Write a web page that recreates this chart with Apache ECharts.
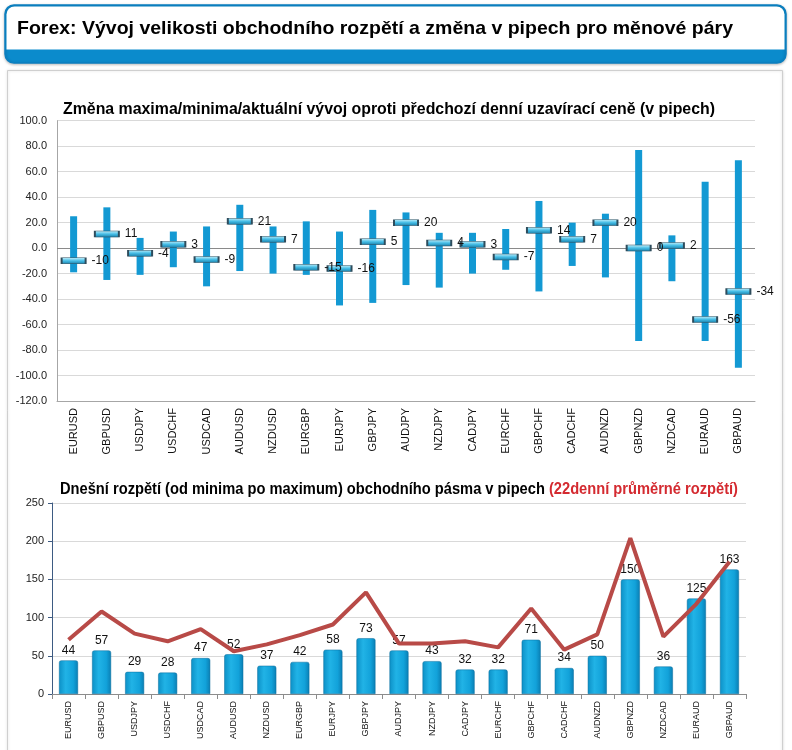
<!DOCTYPE html>
<html>
<head>
<meta charset="utf-8">
<script src="https://cdn.jsdelivr.net/npm/echarts@6/dist/echarts.min.js"></script>
<style>
html,body{margin:0;padding:0;background:#fff;}
#c{width:792px;height:750px;}
</style>
</head>
<body>
<div id="c"></div>
<script>
const categories = ['EURUSD','GBPUSD','USDJPY','USDCHF','USDCAD','AUDUSD','NZDUSD','EURGBP','EURJPY','GBPJPY','AUDJPY','NZDJPY','CADJPY','EURCHF','GBPCHF','CADCHF','AUDNZD','GBPNZD','NZDCAD','EURAUD','GBPAUD'];
const maxChange = [25,32,8,13,17,34,17,21,13,30,28,12,12,15,37,20,27,77,10,52,69];
const minChange = [-19,-25,-21,-15,-30,-18,-20,-21,-45,-43,-29,-31,-20,-17,-34,-14,-23,-73,-26,-73,-94];
const currentChange = [-10,11,-4,3,-9,21,7,-15,-16,5,20,4,3,-7,14,7,20,0,2,-56,-34];
const dailyRange = [44,57,29,28,47,52,37,42,58,73,57,43,32,32,71,34,50,150,36,125,163];
const avgRange22 = [71,108,79,69,85,56,65,77,91,133,66,66,69,61,112,58,78,204,75,118,173];

const mainTitle = 'Forex: Vývoj velikosti obchodního rozpětí a změna v pipech pro měnové páry';
const title1 = 'Změna maxima/minima/aktuální vývoj oproti předchozí denní uzavírací ceně (v pipech)';
const title2a = 'Dnešní rozpětí (od minima po maximum) obchodního pásma v pipech ';
const title2b = '(22denní průměrné rozpětí)';

const FF = '"Liberation Sans", Arial, sans-serif';
const mctx = document.createElement('canvas').getContext('2d');
function tw(text, font){ mctx.font = font; return mctx.measureText(text).width; }

const fMain = 'bold 19px ' + FF;
const f1 = 'bold 16px ' + FF;
const sMain = 716 / tw(mainTitle, fMain);
const s1 = 652 / tw(title1, f1);
const w2a = tw(title2a, f1), w2b = tw(title2b, f1);
const s2 = 678 / (w2a + w2b);

const chart = echarts.init(document.getElementById('c'), null, {renderer:'canvas'});

const option = {
  animation: false,
  textStyle: {fontFamily: FF},
  graphic: [
    {type:'rect', z:-10, shape:{x:7.5, y:70.5, width:775, height:700}, style:{fill:'#fff', stroke:'#cfcfcf', lineWidth:1, shadowBlur:3, shadowColor:'rgba(0,0,0,0.15)'}},
    {type:'rect', z:-5, shape:{x:5, y:5, width:781, height:58, r:9}, style:{fill:'#0b8bcc', stroke:'#0b7fc0', lineWidth:1.5, shadowBlur:3, shadowOffsetY:1, shadowColor:'rgba(0,0,0,0.25)'}},
    {type:'rect', z:-4, shape:{x:6.5, y:6.5, width:778, height:43, r:[8,8,0,0]}, style:{fill:'#fff'}},
    {type:'text', x:17, y:29, scaleX:sMain, style:{text:mainTitle, font:fMain, fill:'#000', verticalAlign:'middle', align:'left'}},
    {type:'text', x:63, y:110, scaleX:s1, style:{text:title1, font:f1, fill:'#000', verticalAlign:'middle', align:'left'}},
    {type:'text', x:60, y:490, scaleX:s2, style:{text:title2a, font:f1, fill:'#000', verticalAlign:'middle', align:'left'}},
    {type:'text', x:60 + w2a*s2, y:490, scaleX:s2, style:{text:title2b, font:f1, fill:'#d42a30', verticalAlign:'middle', align:'left'}}
  ],
  grid: [
    {left:57, right:37, top:120.7, bottom:349},
    {left:52, right:46, top:503, bottom:56}
  ],
  xAxis: [
    {type:'category', gridIndex:0, data:categories,
     axisLine:{onZero:false, lineStyle:{color:'#a6a6a6'}}, axisTick:{show:false},
     axisLabel:{rotate:90, fontSize:11, color:'#111', margin:7, interval:0}},
    {type:'category', gridIndex:1, data:categories,
     axisLine:{lineStyle:{color:'#8c8c8c'}}, axisTick:{show:true, length:5, lineStyle:{color:'#8c8c8c'}},
     axisLabel:{rotate:90, fontSize:9, color:'#111', margin:7, interval:0}}
  ],
  yAxis: [
    {type:'value', gridIndex:0, min:-120, max:100, interval:20,
     axisLine:{show:true, lineStyle:{color:'#a6a6a6'}}, axisTick:{show:false},
     axisLabel:{fontSize:11, color:'#222', margin:10, formatter: v => v.toFixed(1)},
     splitLine:{lineStyle:{color:'#d9d9d9'}}},
    {type:'value', gridIndex:1, min:0, max:250, interval:50,
     axisLine:{show:true, lineStyle:{color:'#3d5b82'}}, axisTick:{show:true, length:4, lineStyle:{color:'#3d5b82'}},
     axisLabel:{fontSize:11, color:'#222', margin:8},
     splitLine:{lineStyle:{color:'#d9d9d9'}}}
  ],
  series: [
    {type:'custom', xAxisIndex:0, yAxisIndex:0,
     data: categories.map((c,i)=>[i, maxChange[i], minChange[i]]),
     encode:{x:0, y:[1,2]},
     renderItem: function(params, api){
       const x = api.value(0);
       const t = api.coord([x, api.value(1)]);
       const b = api.coord([x, api.value(2)]);
       const w = 7;
       return {type:'rect', shape:{x:t[0]-w/2, y:t[1], width:w, height:b[1]-t[1]}, style:{fill:'#1399d3'}};
     },
     markLine:{silent:true, symbol:'none', label:{show:false}, lineStyle:{color:'#8a8a8a', width:1, type:'solid'}, data:[{yAxis:0}], z:1}
    },
    {type:'scatter', xAxisIndex:0, yAxisIndex:0, data: currentChange,
     symbol:'rect', symbolSize:[24,6], z:5,
     itemStyle:{opacity:1, borderColor:'#2e4c5c', borderWidth:1,
       color:{type:'linear', x:0, y:0, x2:0, y2:1, colorStops:[{offset:0,color:'#c4f0fb'},{offset:0.5,color:'#45bde6'},{offset:1,color:'#1a7ea8'}]}},
     label:{show:true, position:'right', distance:5, fontSize:12, color:'#111', formatter: p => String(p.value)}
    },
    {type:'bar', xAxisIndex:1, yAxisIndex:1, data: dailyRange, barWidth:19, z:2,
     itemStyle:{borderRadius:[2,2,0,0], borderColor:'#0a6c9c', borderWidth:0.5,
       color:{type:'linear', x:0, y:0, x2:1, y2:0, colorStops:[{offset:0,color:'#0c90c6'},{offset:0.35,color:'#21b3e6'},{offset:0.75,color:'#12a2da'},{offset:1,color:'#0a7eb3'}]}},
     label:{show:true, position:'top', distance:4, fontSize:12, color:'#111'}
    },
    {type:'line', xAxisIndex:1, yAxisIndex:1, data: avgRange22, z:3,
     symbol:'none', lineStyle:{color:'#b84a47', width:4}, itemStyle:{color:'#b84a47'}}
  ]
};
chart.setOption(option);
</script>
</body>
</html>
